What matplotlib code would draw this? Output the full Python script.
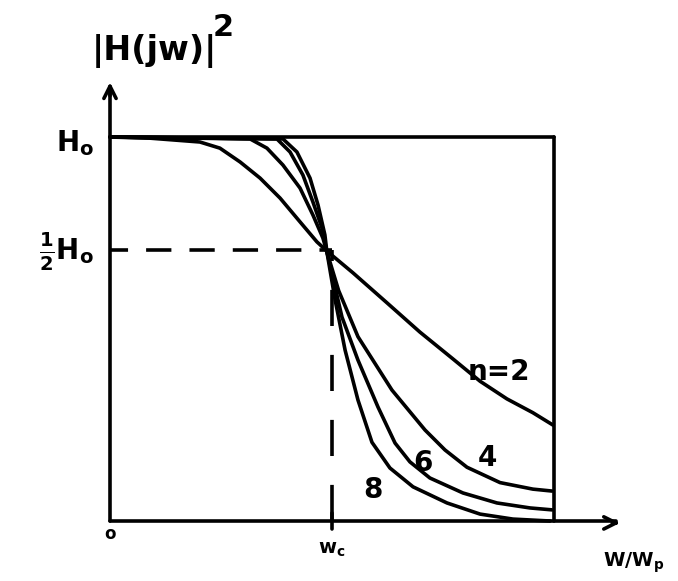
import matplotlib.pyplot as plt

# frequency in units of wc, response in units of H0 (as drawn)
n2_x = [0.0, 0.18, 0.405, 0.495, 0.586, 0.676, 0.766, 0.856, 0.932, 0.977,
        1.095, 1.248, 1.396, 1.545, 1.667, 1.788, 1.905, 1.995]
n2_y = [1.0, 0.997, 0.987, 0.971, 0.935, 0.893, 0.841, 0.779, 0.727, 0.703,
        0.646, 0.568, 0.492, 0.422, 0.364, 0.318, 0.282, 0.250]

n4_x = [0.0, 0.631, 0.707, 0.779, 0.856, 0.914, 0.959, 0.977, 1.03, 1.117,
        1.270, 1.419, 1.509, 1.608, 1.757, 1.905, 1.991]
n4_y = [1.0, 0.995, 0.971, 0.927, 0.867, 0.797, 0.737, 0.701, 0.600, 0.480,
        0.341, 0.237, 0.185, 0.140, 0.100, 0.083, 0.078]

n6_x = [0.0, 0.752, 0.811, 0.869, 0.914, 0.955, 0.977, 1.045, 1.117, 1.207,
        1.284, 1.351, 1.441, 1.590, 1.743, 1.892, 1.991]
n6_y = [1.0, 0.995, 0.961, 0.901, 0.831, 0.763, 0.701, 0.531, 0.419, 0.297,
        0.203, 0.154, 0.112, 0.073, 0.047, 0.034, 0.029]

n8_x = [0.0, 0.779, 0.842, 0.901, 0.937, 0.968, 0.977, 1.014, 1.059, 1.117,
        1.180, 1.261, 1.365, 1.518, 1.667, 1.815, 1.982]
n8_y = [1.0, 0.995, 0.961, 0.893, 0.823, 0.745, 0.701, 0.576, 0.445, 0.315,
        0.205, 0.138, 0.089, 0.047, 0.018, 0.005, 0.0]

WC = 1.0
HALF = 0.706
X_END = 2.0

curve_labels = ["n=2", "4", "6", "8"]
label_pos = [(1.75, 0.388), (1.70, 0.165), (1.41, 0.152), (1.185, 0.08)]

fig = plt.figure(figsize=(6.78, 5.81), dpi=100)
ax = fig.add_axes([0, 0, 1, 1])
ax.set_xlim(-0.4955, 2.5586)
ax.set_ylim(-0.15625, 1.3568)
ax.axis("off")

lw = 2.6
k = dict(color="black", lw=lw, solid_capstyle="round", solid_joinstyle="round")

# axes
ax.plot([0, 0], [0, 1.13], **k)
ax.plot([0, 2.28], [0, 0], **k)
ax.annotate("", xy=(0, 1.15), xytext=(0, 1.10),
            arrowprops=dict(arrowstyle="->", color="black", lw=lw, mutation_scale=22))
ax.annotate("", xy=(2.31, -0.005), xytext=(2.25, -0.005),
            arrowprops=dict(arrowstyle="->", color="black", lw=lw, mutation_scale=22))

# box
ax.plot([0, X_END], [1, 1], **k)
ax.plot([X_END, X_END], [0, 1], **k)

# half-power guides
ax.plot([0, WC], [HALF, HALF], color="black", lw=lw, ls=(2, (7, 5)))
ax.plot([WC, WC], [0, HALF], color="black", lw=lw, ls=(0, (10, 8)))
ax.plot([WC, WC], [-0.02, 0.02], **k)

for xs, ys in [(n2_x, n2_y), (n4_x, n4_y), (n6_x, n6_y), (n8_x, n8_y)]:
    ax.plot(xs, ys, **k)

font = dict(color="black", fontweight="bold", family="DejaVu Sans")
for lab, (tx, ty) in zip(curve_labels, label_pos):
    ax.text(tx, ty, lab, fontsize=20, ha="center", va="center", **font)

ax.text(0.2, 1.225, r"|H(jw)|", fontsize=24, ha="center", va="center", **font)
ax.text(0.51, 1.285, "2", fontsize=22, ha="center", va="center", **font)
ax.text(-0.07, 0.985, r"H$_\mathbf{o}$", fontsize=20, ha="right", va="center", **font)
ax.text(-0.07, HALF - 0.005, r"$\mathbf{\frac{1}{2}}$H$_\mathbf{o}$", fontsize=20,
        ha="right", va="center", **font)
ax.text(0.0, -0.035, "o", fontsize=12, ha="center", va="center", **font)
ax.text(WC, -0.075, r"w$_\mathbf{c}$", fontsize=14, ha="center", va="center", **font)
ax.text(2.36, -0.11, r"W/W$_\mathbf{p}$", fontsize=14, ha="center", va="center", **font)

fig.savefig("out.png", dpi=100)
